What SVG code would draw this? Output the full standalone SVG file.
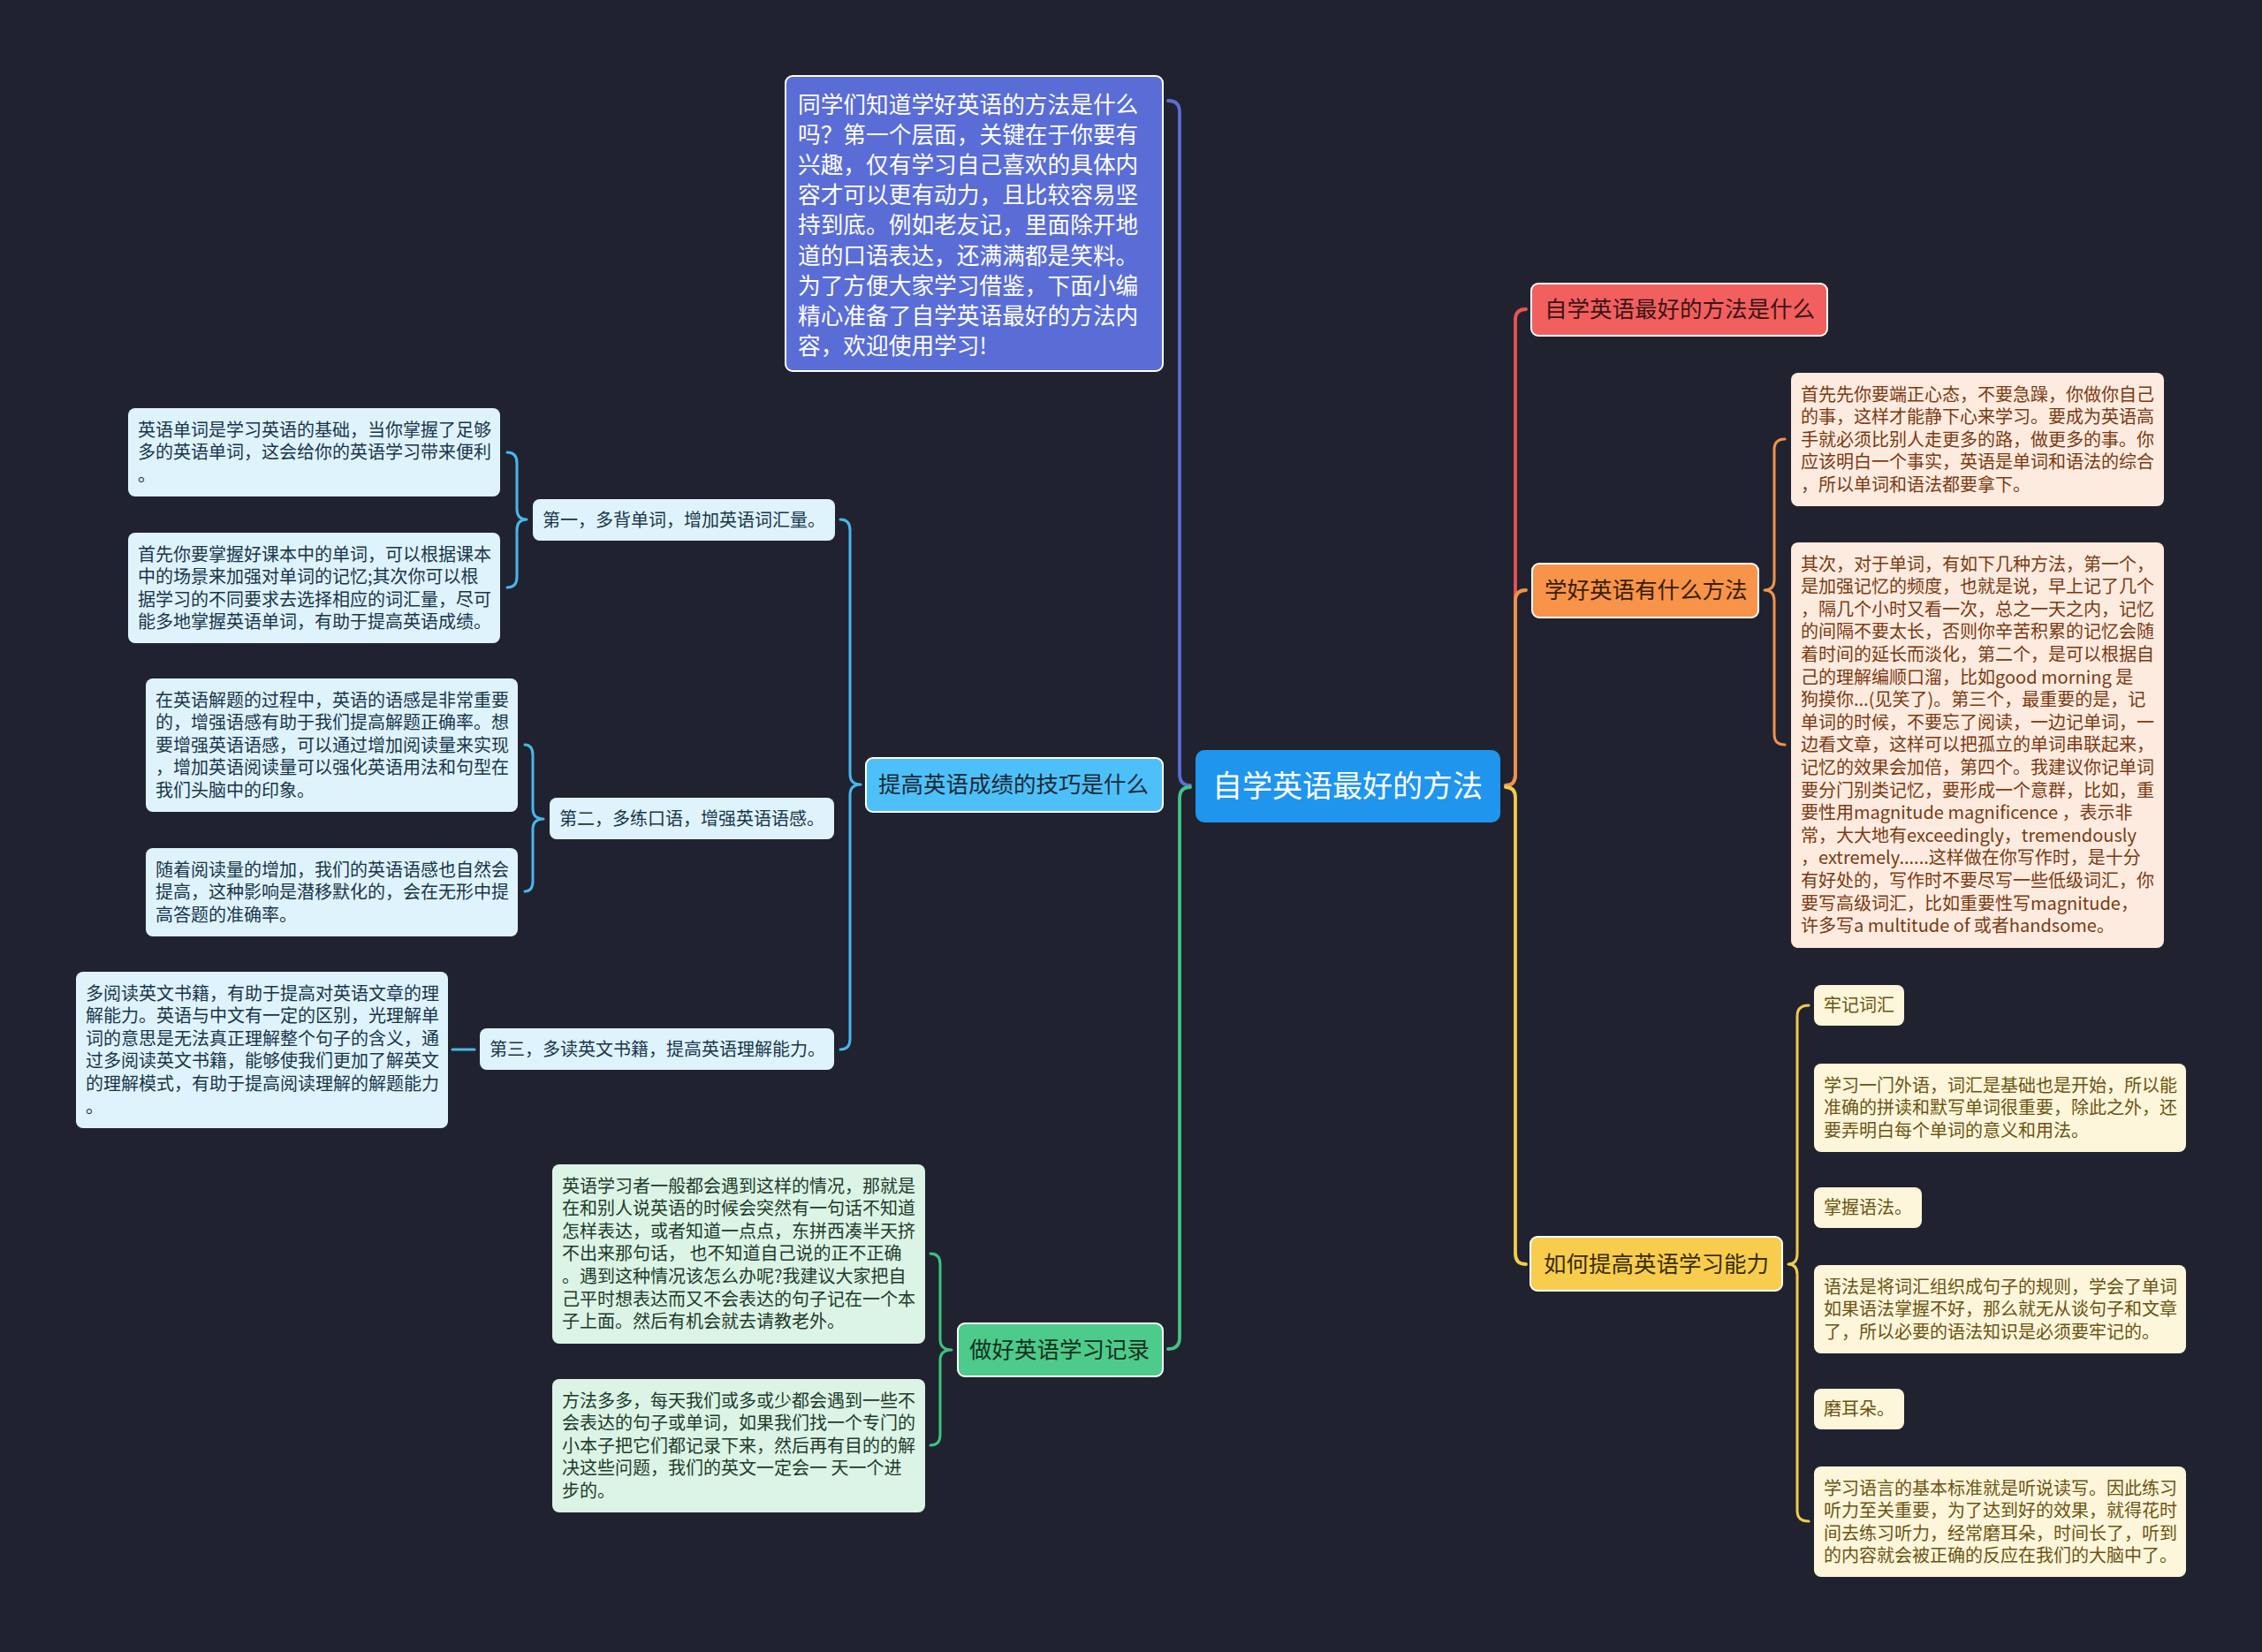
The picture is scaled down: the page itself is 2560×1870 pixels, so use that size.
<svg xmlns="http://www.w3.org/2000/svg" width="2560" height="1870" viewBox="0 0 2560 1870">
<style>
text{font-family:"Noto Sans CJK SC","Noto Sans",sans-serif;}
.leaf{font-size:20px;}
.l1{font-size:25.5px;}
.conn path{fill:none;stroke-linecap:round;stroke-linejoin:round;}
.main{stroke-width:3.8;}
.sub{stroke-width:3;}
.b1{stroke:#ffffff;stroke-width:2;}
.bl{fill:#dff3fc;} .blt{fill:#18364a;}
.gr{fill:#dcf4e6;} .grt{fill:#1e3b2b;}
.or{fill:#fdebdf;} .ort{fill:#7a3a12;}
.ye{fill:#fdf6db;} .yet{fill:#6b5412;}
</style>
<rect x="0" y="0" width="2560" height="1870" fill="#20232f"/>

<g id="connectors" class="conn">
  <path class="main" stroke="#5b6dd6" d="M1322 114 Q1335 114 1335 127 L1335 876 Q1335 889 1347 889"/>
  <path class="main" stroke="#44c283" d="M1347 891 Q1335 891 1335 904 L1335 1514 Q1335 1527 1322 1527"/>
  <path class="main" stroke="#ea5454" d="M1704 889 Q1715 889 1715 877 L1715 362 Q1715 350 1727 350"/>
  <path class="main" stroke="#f0924a" d="M1704 889 Q1715 889 1715 877 L1715 680 Q1715 668 1727 668"/>
  <path class="main" stroke="#f0cd48" d="M1704 891 Q1715 891 1715 903 L1715 1419 Q1715 1431 1727 1431"/>
  <path class="sub" stroke="#47b6ec" d="M951 588 Q962 588 962 600 L962 876 Q962 888 974 888 Q962 888 962 900 L962 1176 Q962 1188 951 1188"/>
  <path class="sub" stroke="#47b6ec" d="M574 512 Q585 512 585 524 L585 576 Q585 588 596 588 Q585 588 585 600 L585 653 Q585 665 574 665"/>
  <path class="sub" stroke="#47b6ec" d="M594 843 Q603 843 603 855 L603 915 Q603 927 615 927 Q603 927 603 939 L603 997 Q603 1009 594 1009"/>
  <path class="sub" stroke="#47b6ec" d="M512 1188 L537 1188"/>
  <path class="sub" stroke="#3fc17f" d="M1053 1419 Q1064 1419 1064 1431 L1064 1516 Q1064 1528 1077 1528 Q1064 1528 1064 1540 L1064 1624 Q1064 1636 1053 1636"/>
  <path class="sub" stroke="#f0924a" d="M2020 497 Q2008 497 2008 509 L2008 656 Q2008 668 1997 668 Q2008 668 2008 680 L2008 831 Q2008 843 2020 843"/>
  <path class="sub" stroke="#efcc4a" d="M2047 1138 Q2034 1138 2034 1150 L2034 1419 Q2034 1431 2024 1431 Q2034 1431 2034 1443 L2034 1710 Q2034 1722 2047 1722"/>
</g>

<g id="center">
  <rect x="1353" y="849" width="345" height="82" rx="10" fill="#1f95ee"/>
  <text x="1372" y="902" font-size="34" fill="#ffffff">自学英语最好的方法</text>
</g>

<g id="intro">
  <rect x="889" y="86" width="427" height="334" rx="8" fill="#5a6dd6" class="b1"/>
  <text x="903" y="127.5" font-size="25.7" fill="#ffffff">
    <tspan x="903">同学们知道学好英语的方法是什么</tspan>
    <tspan x="903" dy="34.2">吗？第一个层面，关键在于你要有</tspan>
    <tspan x="903" dy="34.2">兴趣，仅有学习自己喜欢的具体内</tspan>
    <tspan x="903" dy="34.2">容才可以更有动力，且比较容易坚</tspan>
    <tspan x="903" dy="34.2">持到底。例如老友记，里面除开地</tspan>
    <tspan x="903" dy="34.2">道的口语表达，还满满都是笑料。</tspan>
    <tspan x="903" dy="34.2">为了方便大家学习借鉴，下面小编</tspan>
    <tspan x="903" dy="34.2">精心准备了自学英语最好的方法内</tspan>
    <tspan x="903" dy="34.2">容，欢迎使用学习!</tspan>
  </text>
</g>

<g id="tips">
  <rect x="980" y="858" width="336" height="61" rx="8" fill="#4ec0f9" class="b1"/>
  <text class="l1" x="994" y="897" fill="#1b2a36">提高英语成绩的技巧是什么</text>
</g>

<g id="record">
  <rect x="1084" y="1498" width="232" height="60" rx="8" fill="#4ccb8a" class="b1"/>
  <text class="l1" x="1097" y="1537" fill="#16301f">做好英语学习记录</text>
</g>

<g id="best">
  <rect x="1733" y="321" width="335" height="59" rx="8" fill="#f25f5f" class="b1"/>
  <text class="l1" x="1748" y="359" fill="#3a1414">自学英语最好的方法是什么</text>
</g>

<g id="methods">
  <rect x="1734" y="638" width="256" height="61" rx="8" fill="#f7944a" class="b1"/>
  <text class="l1" x="1748" y="677" fill="#3a1d08">学好英语有什么方法</text>
</g>

<g id="ability">
  <rect x="1732" y="1400" width="285" height="61" rx="8" fill="#f8cd4e" class="b1"/>
  <text class="l1" x="1747" y="1440" fill="#3a2d05">如何提高英语学习能力</text>
</g>

<g id="n1">
  <rect class="bl" x="603" y="565" width="342" height="47" rx="8"/>
  <text class="leaf blt" x="614" y="595.5">第一，多背单词，增加英语词汇量。</text>
</g>
<g id="n2">
  <rect class="bl" x="622" y="903" width="322" height="47" rx="8"/>
  <text class="leaf blt" x="633" y="933.5">第二，多练口语，增强英语语感。</text>
</g>
<g id="n3">
  <rect class="bl" x="543" y="1164" width="401" height="47" rx="8"/>
  <text class="leaf blt" x="554" y="1194.5">第三，多读英文书籍，提高英语理解能力。</text>
</g>

<g id="l1">
  <rect class="bl" x="145" y="462" width="421" height="100" rx="8"/>
  <text class="leaf blt" x="156" y="493.5">
    <tspan x="156">英语单词是学习英语的基础，当你掌握了足够</tspan>
    <tspan x="156" dy="25.6">多的英语单词，这会给你的英语学习带来便利</tspan>
    <tspan x="156" dy="25.6">。</tspan>
  </text>
</g>
<g id="l2">
  <rect class="bl" x="145" y="603" width="421" height="125" rx="8"/>
  <text class="leaf blt" x="156" y="634.5">
    <tspan x="156">首先你要掌握好课本中的单词，可以根据课本</tspan>
    <tspan x="156" dy="25.6">中的场景来加强对单词的记忆;其次你可以根</tspan>
    <tspan x="156" dy="25.6">据学习的不同要求去选择相应的词汇量，尽可</tspan>
    <tspan x="156" dy="25.6">能多地掌握英语单词，有助于提高英语成绩。</tspan>
  </text>
</g>
<g id="l3">
  <rect class="bl" x="165" y="768" width="421" height="151" rx="8"/>
  <text class="leaf blt" x="176" y="799.5">
    <tspan x="176">在英语解题的过程中，英语的语感是非常重要</tspan>
    <tspan x="176" dy="25.6">的，增强语感有助于我们提高解题正确率。想</tspan>
    <tspan x="176" dy="25.6">要增强英语语感，可以通过增加阅读量来实现</tspan>
    <tspan x="176" dy="25.6">，增加英语阅读量可以强化英语用法和句型在</tspan>
    <tspan x="176" dy="25.6">我们头脑中的印象。</tspan>
  </text>
</g>
<g id="l4">
  <rect class="bl" x="165" y="960" width="421" height="100" rx="8"/>
  <text class="leaf blt" x="176" y="991.5">
    <tspan x="176">随着阅读量的增加，我们的英语语感也自然会</tspan>
    <tspan x="176" dy="25.6">提高，这种影响是潜移默化的，会在无形中提</tspan>
    <tspan x="176" dy="25.6">高答题的准确率。</tspan>
  </text>
</g>
<g id="l5">
  <rect class="bl" x="86" y="1100" width="421" height="177" rx="8"/>
  <text class="leaf blt" x="97" y="1131.5">
    <tspan x="97">多阅读英文书籍，有助于提高对英语文章的理</tspan>
    <tspan x="97" dy="25.6">解能力。英语与中文有一定的区别，光理解单</tspan>
    <tspan x="97" dy="25.6">词的意思是无法真正理解整个句子的含义，通</tspan>
    <tspan x="97" dy="25.6">过多阅读英文书籍，能够使我们更加了解英文</tspan>
    <tspan x="97" dy="25.6">的理解模式，有助于提高阅读理解的解题能力</tspan>
    <tspan x="97" dy="25.6">。</tspan>
  </text>
</g>

<g id="g1">
  <rect class="gr" x="625" y="1318" width="422" height="203" rx="8"/>
  <text class="leaf grt" x="636" y="1349.5">
    <tspan x="636">英语学习者一般都会遇到这样的情况，那就是</tspan>
    <tspan x="636" dy="25.6">在和别人说英语的时候会突然有一句话不知道</tspan>
    <tspan x="636" dy="25.6">怎样表达，或者知道一点点，东拼西凑半天挤</tspan>
    <tspan x="636" dy="25.6">不出来那句话， 也不知道自己说的正不正确</tspan>
    <tspan x="636" dy="25.6">。遇到这种情况该怎么办呢?我建议大家把自</tspan>
    <tspan x="636" dy="25.6">己平时想表达而又不会表达的句子记在一个本</tspan>
    <tspan x="636" dy="25.6">子上面。然后有机会就去请教老外。</tspan>
  </text>
</g>
<g id="g2">
  <rect class="gr" x="625" y="1561" width="422" height="151" rx="8"/>
  <text class="leaf grt" x="636" y="1592.5">
    <tspan x="636">方法多多，每天我们或多或少都会遇到一些不</tspan>
    <tspan x="636" dy="25.6">会表达的句子或单词，如果我们找一个专门的</tspan>
    <tspan x="636" dy="25.6">小本子把它们都记录下来，然后再有目的的解</tspan>
    <tspan x="636" dy="25.6">决这些问题，我们的英文一定会一 天一个进</tspan>
    <tspan x="636" dy="25.6">步的。</tspan>
  </text>
</g>

<g id="o1">
  <rect class="or" x="2027" y="422" width="422" height="151" rx="8"/>
  <text class="leaf ort" x="2038" y="453.5">
    <tspan x="2038">首先先你要端正心态，不要急躁，你做你自己</tspan>
    <tspan x="2038" dy="25.6">的事，这样才能静下心来学习。要成为英语高</tspan>
    <tspan x="2038" dy="25.6">手就必须比别人走更多的路，做更多的事。你</tspan>
    <tspan x="2038" dy="25.6">应该明白一个事实，英语是单词和语法的综合</tspan>
    <tspan x="2038" dy="25.6">，所以单词和语法都要拿下。</tspan>
  </text>
</g>
<g id="o2">
  <rect class="or" x="2027" y="614" width="422" height="459" rx="8"/>
  <text class="leaf ort" x="2038" y="645.5">
    <tspan x="2038">其次，对于单词，有如下几种方法，第一个，</tspan>
    <tspan x="2038" dy="25.6">是加强记忆的频度，也就是说，早上记了几个</tspan>
    <tspan x="2038" dy="25.6">，隔几个小时又看一次，总之一天之内，记忆</tspan>
    <tspan x="2038" dy="25.6">的间隔不要太长，否则你辛苦积累的记忆会随</tspan>
    <tspan x="2038" dy="25.6">着时间的延长而淡化，第二个，是可以根据自</tspan>
    <tspan x="2038" dy="25.6">己的理解编顺口溜，比如good morning 是</tspan>
    <tspan x="2038" dy="25.6">狗摸你...(见笑了)。第三个，最重要的是，记</tspan>
    <tspan x="2038" dy="25.6">单词的时候，不要忘了阅读，一边记单词，一</tspan>
    <tspan x="2038" dy="25.6">边看文章，这样可以把孤立的单词串联起来，</tspan>
    <tspan x="2038" dy="25.6">记忆的效果会加倍，第四个。我建议你记单词</tspan>
    <tspan x="2038" dy="25.6">要分门别类记忆，要形成一个意群，比如，重</tspan>
    <tspan x="2038" dy="25.6">要性用magnitude magnificence ，表示非</tspan>
    <tspan x="2038" dy="25.6">常，大大地有exceedingly，tremendously</tspan>
    <tspan x="2038" dy="25.6">，extremely......这样做在你写作时，是十分</tspan>
    <tspan x="2038" dy="25.6">有好处的，写作时不要尽写一些低级词汇，你</tspan>
    <tspan x="2038" dy="25.6">要写高级词汇，比如重要性写magnitude，</tspan>
    <tspan x="2038" dy="25.6">许多写a multitude of 或者handsome。</tspan>
  </text>
</g>

<g id="y1">
  <rect class="ye" x="2053" y="1115" width="102" height="46" rx="8"/>
  <text class="leaf yet" x="2064" y="1145">牢记词汇</text>
</g>
<g id="y2">
  <rect class="ye" x="2053" y="1204" width="421" height="100" rx="8"/>
  <text class="leaf yet" x="2064" y="1235.5">
    <tspan x="2064">学习一门外语，词汇是基础也是开始，所以能</tspan>
    <tspan x="2064" dy="25.6">准确的拼读和默写单词很重要，除此之外，还</tspan>
    <tspan x="2064" dy="25.6">要弄明白每个单词的意义和用法。</tspan>
  </text>
</g>
<g id="y3">
  <rect class="ye" x="2053" y="1344" width="122" height="46" rx="8"/>
  <text class="leaf yet" x="2064" y="1374">掌握语法。</text>
</g>
<g id="y4">
  <rect class="ye" x="2053" y="1432" width="421" height="100" rx="8"/>
  <text class="leaf yet" x="2064" y="1463.5">
    <tspan x="2064">语法是将词汇组织成句子的规则，学会了单词</tspan>
    <tspan x="2064" dy="25.6">如果语法掌握不好，那么就无从谈句子和文章</tspan>
    <tspan x="2064" dy="25.6">了，所以必要的语法知识是必须要牢记的。</tspan>
  </text>
</g>
<g id="y5">
  <rect class="ye" x="2053" y="1572" width="102" height="46" rx="8"/>
  <text class="leaf yet" x="2064" y="1602">磨耳朵。</text>
</g>
<g id="y6">
  <rect class="ye" x="2053" y="1660" width="421" height="125" rx="8"/>
  <text class="leaf yet" x="2064" y="1691.5">
    <tspan x="2064">学习语言的基本标准就是听说读写。因此练习</tspan>
    <tspan x="2064" dy="25.6">听力至关重要，为了达到好的效果，就得花时</tspan>
    <tspan x="2064" dy="25.6">间去练习听力，经常磨耳朵，时间长了，听到</tspan>
    <tspan x="2064" dy="25.6">的内容就会被正确的反应在我们的大脑中了。</tspan>
  </text>
</g>
</svg>
